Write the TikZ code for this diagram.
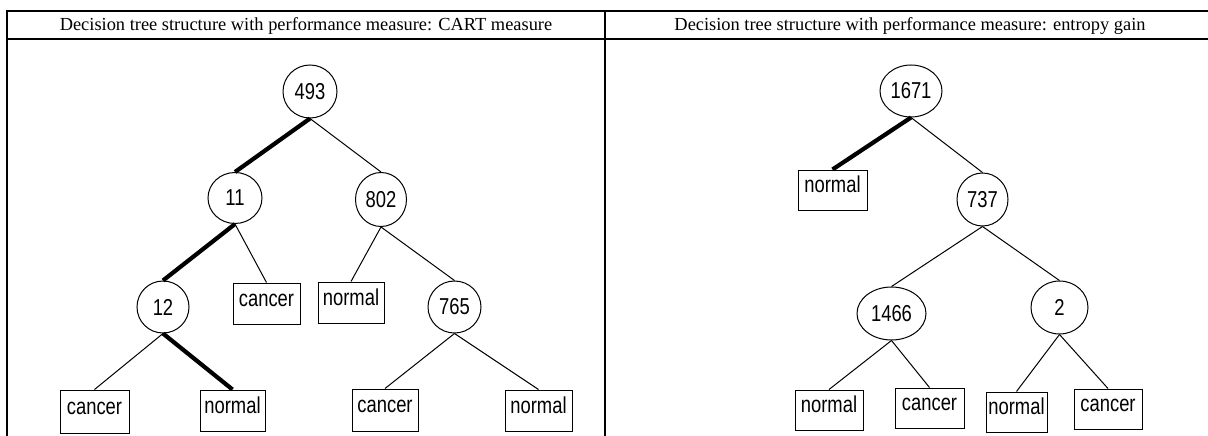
\documentclass[tikz,border=0pt]{standalone}
\usepackage{fontspec}
\usetikzlibrary{shapes.geometric}
\newfontfamily\hdrfont{Liberation Serif}
\newfontfamily\nodefont[FakeStretch=0.8]{Liberation Sans}
\tikzset{
  frameline/.style={line width=2.4pt, black},
  hdr/.style={anchor=base, inner sep=0pt, font=\hdrfont\fontsize{18.4}{20}\selectfont},
  circnode/.style={draw, ellipse, line width=1pt, inner sep=0pt, minimum width=53pt, minimum height=52pt, font=\nodefont\fontsize{23}{25}\selectfont},
  leafbox/.style={draw, rectangle, line width=1pt, inner sep=0pt, minimum width=67pt, minimum height=41pt, text height=10pt, text depth=5pt, font=\nodefont\fontsize{23}{25}\selectfont},
  thinedge/.style={line width=1pt},
  thickedge/.style={line width=4.2pt}
}
\begin{document}
\begin{tikzpicture}[x=1pt,y=-1pt]
\useasboundingbox (0,0) rectangle (1208,436);
% table frame
\draw[frameline] (7,440) -- (7,11) -- (1215,11);
\draw[frameline] (6,39) -- (1215,39);
\draw[frameline] (605,11) -- (605,440);
\node[hdr] (h1) at (306,30.7) {Decision tree structure with performance measure: CART measure};
\node[hdr] (h2) at (910,30.7) {Decision tree structure with performance measure: entropy gain};
% left tree
\node[circnode, minimum width=54pt, minimum height=53pt] (a493) at (310,91.5) {493};
\node[circnode, minimum width=54pt, minimum height=51pt] (a11) at (235,198) {11};
\node[circnode, minimum width=51pt, minimum height=54pt] (a802) at (381,199.5) {802};
\node[circnode, minimum width=52pt] (a12) at (163,307) {12};
\node[leafbox] (ac1) at (266.5,303.5) {cancer};
\node[leafbox, minimum width=66pt] (an1) at (351,302.5) {normal};
\node[circnode] (a765) at (454.5,307) {765};
\node[leafbox, minimum width=69pt, minimum height=43pt] (ac2) at (94.5,411.5) {cancer};
\node[leafbox, minimum width=65pt] (an2) at (232.5,410.5) {normal};
\node[leafbox, minimum width=66pt, minimum height=42pt] (ac3) at (385,410) {cancer};
\node[leafbox] (an3) at (538.5,410.5) {normal};
\draw[thickedge] (a493.south) -- (a11.north);
\draw[thinedge] (a493.south) -- (a802.north);
\draw[thickedge] (a11.south) -- (a12.north);
\draw[thinedge] (a11.south) -- (ac1.north);
\draw[thinedge] (a802.south) -- (an1.north);
\draw[thinedge] (a802.south) -- (a765.north);
\draw[thinedge] (a12.south) -- (ac2.north);
\draw[thickedge] (a12.south) -- (an2.north);
\draw[thinedge] (a765.south) -- (ac3.north);
\draw[thinedge] (a765.south) -- (an3.north);
% right tree
\node[circnode, minimum width=62pt] (b1671) at (911,91) {1671};
\node[leafbox, minimum width=69pt, minimum height=40pt] (bn0) at (832.5,190) {normal};
\node[circnode, minimum width=51pt, minimum height=53pt] (b737) at (982.5,199.5) {737};
\node[circnode, minimum width=69pt, minimum height=53pt] (b1466) at (891.5,313.5) {1466};
\node[circnode, minimum width=57pt, minimum height=53pt] (b2) at (1059.5,307.5) {2};
\node[leafbox, minimum width=68pt, minimum height=40pt] (bn1) at (829,410) {normal};
\node[leafbox, minimum width=69pt, minimum height=40pt] (bc1) at (929.5,408) {cancer};
\node[leafbox, minimum width=61pt, minimum height=40pt] (bn2) at (1016.5,412) {normal};
\node[leafbox, minimum width=68pt, minimum height=40pt] (bc2) at (1108,409) {cancer};
\draw[thickedge] (b1671.south) -- (bn0.north);
\draw[thinedge] (b1671.south) -- (b737.north);
\draw[thinedge] (b737.south) -- (b1466.north);
\draw[thinedge] (b737.south) -- (b2.north);
\draw[thinedge] (b1466.south) -- (bn1.north);
\draw[thinedge] (b1466.south) -- (bc1.north);
\draw[thinedge] (b2.south) -- (bn2.north);
\draw[thinedge] (b2.south) -- (bc2.north);
\end{tikzpicture}
\end{document}
